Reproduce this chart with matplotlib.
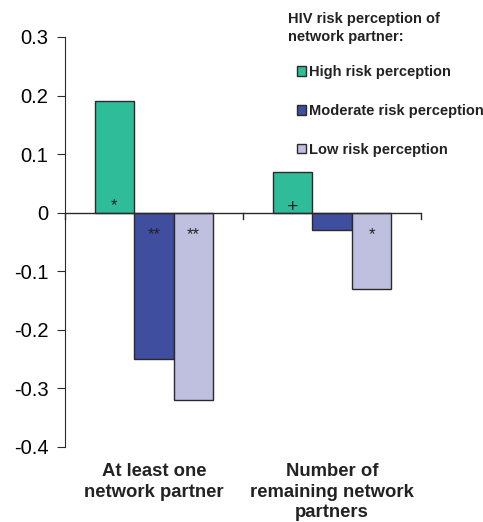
import matplotlib
matplotlib.use("Agg")
import matplotlib.pyplot as plt
import numpy as np

plt.rcParams['font.family'] = ['Liberation Sans', 'DejaVu Sans']

categories = ["At least one\nnetwork partner", "Number of\nremaining network\npartners"]
series_names = ["High risk perception", "Moderate risk perception", "Low risk perception"]
high = [0.19, 0.07]
moderate = [-0.25, -0.03]
low = [-0.32, -0.13]
high_marks = ["*", "+"]
moderate_marks = ["**", ""]
low_marks = ["**", "*"]
yticks = [0.3, 0.2, 0.1, 0, -0.1, -0.2, -0.3, -0.4]
ytick_labels = ["0.3", "0.2", "0.1", "0", "-0.1", "-0.2", "-0.3", "-0.4"]

colors = ["#2fbc98", "#404ea0", "#bfbfdf"]
edge = "#2a2a2a"

fig = plt.figure(figsize=(4.83, 5.22), dpi=100)
ax = fig.add_axes([65/483, 1-447/522, (421-65)/483, (447-37)/522])

x = np.arange(len(categories))
w = 0.222
handles = []
for i, (vals, marks) in enumerate(zip([high, moderate, low], [high_marks, moderate_marks, low_marks])):
    pos = x + (i - 1) * w
    b = ax.bar(pos, vals, w, color=colors[i], edgecolor=edge, linewidth=1.0,
               label=series_names[i], zorder=2)
    handles.append(b)
    for p, v, m in zip(pos, vals, marks):
        if not m:
            continue
        if v > 0:
            if m == "+":
                ax.text(p, 0.001, m, ha="center", va="baseline", fontsize=14,
                        color="#222222", zorder=3)
            else:
                ax.text(p, 0.005, m, ha="center", va="baseline", fontsize=12,
                        color="#222222", zorder=3)
        else:
            ax.text(p, -0.0445, m, ha="center", va="baseline", fontsize=12,
                    color="#222222", zorder=3)

ax.set_xlim(-0.5, 1.5)
ax.set_ylim(-0.4, 0.3)
ax.set_yticks(yticks)
ax.set_yticklabels(ytick_labels, fontsize=14.5)
ax.spines['top'].set_visible(False)
ax.spines['right'].set_visible(False)
ax.spines['bottom'].set_visible(False)
ax.spines['left'].set_color(edge)
ax.tick_params(axis='y', direction='out', length=6, color=edge, pad=6)

# zero axis with category separators
ax.axhline(0, color=edge, linewidth=1.0, zorder=3)
ax.set_xticks([])
for xs in [-0.5, 0.5, 1.5]:
    ax.plot([xs, xs], [0, -0.01], color=edge, linewidth=1.0, clip_on=False, zorder=3)

for xi, c in zip(x, categories):
    ax.text(xi, -0.428, c, ha="center", va="top", fontsize=13.3, fontweight="bold",
            color="#222222", linespacing=1.27)

fig.text(288/483, 1-12/522, "HIV risk perception of\nnetwork partner:", ha="left", va="top",
         fontsize=10.5, fontweight="bold", color="#222222", linespacing=1.35)
leg = ax.legend(handles=handles, loc="upper left", bbox_to_anchor=(297/483, 1-65/522),
                bbox_transform=fig.transFigure, frameon=False, fontsize=10.5,
                handlelength=0.65, handleheight=0.65, handletextpad=0.15,
                labelspacing=1.7, borderaxespad=0, borderpad=0)
for t in leg.get_texts():
    t.set_fontweight("bold")
    t.set_color("#222222")

fig.savefig("out.png", dpi=100)
